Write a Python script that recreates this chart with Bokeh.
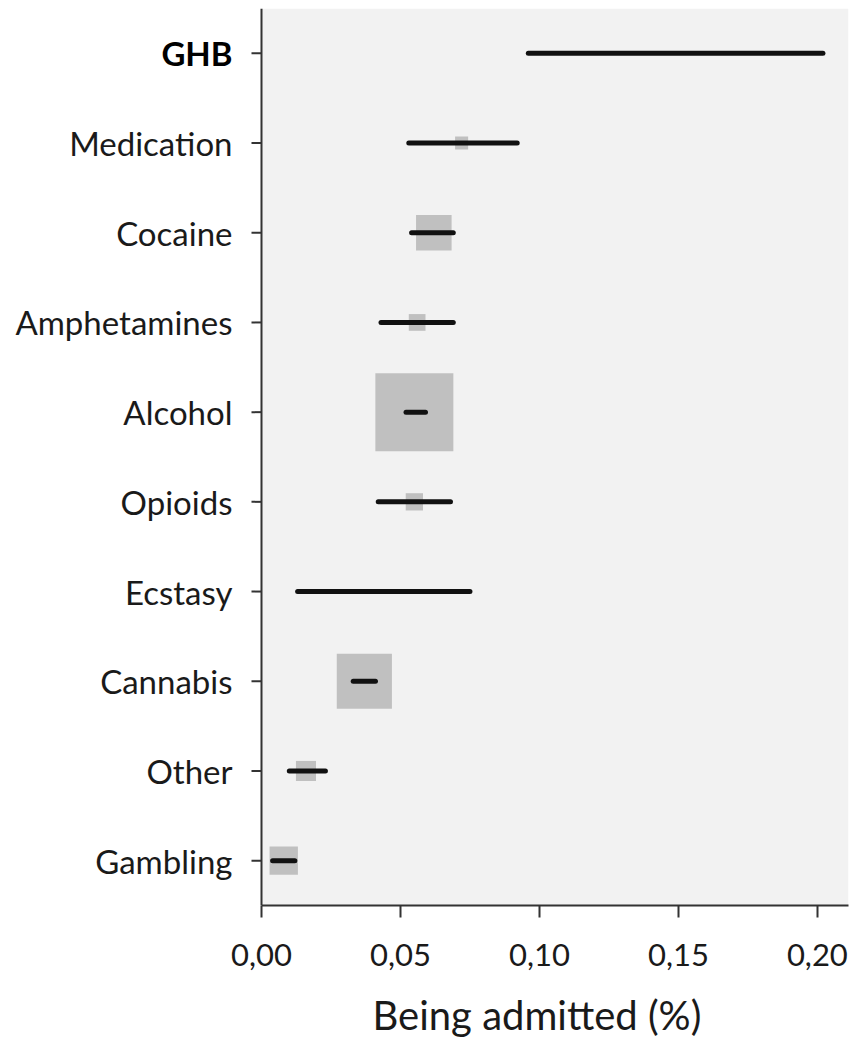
from bokeh.plotting import figure
from bokeh.models import (ColumnDataSource, FactorRange, Range1d, FixedTicker,
                          CustomJSTickFormatter, Title, Span, BoxAnnotation)
from bokeh.core.properties import value
from bokeh.embed import file_html
from bokeh.resources import INLINE
import math

# Pooled estimates of the probability of being admitted, per substance
categories = ["GHB", "Medication", "Cocaine", "Amphetamines", "Alcohol",
              "Opioids", "Ecstasy", "Cannabis", "Other", "Gambling"]
estimate = [0.149, 0.072, 0.062, 0.056, 0.055, 0.055, 0.044, 0.037, 0.016, 0.008]
lower = [0.096, 0.053, 0.054, 0.043, 0.052, 0.042, 0.013, 0.033, 0.010, 0.004]
upper = [0.202, 0.092, 0.069, 0.069, 0.059, 0.068, 0.075, 0.041, 0.023, 0.012]
# relative weight of each pooled estimate (largest = 100)
weight = [0.15, 2.8, 20.8, 4.6, 100, 4.9, 0.26, 50, 6.6, 13.2]
# the highlighted substance is set in bold
highlight = ["GHB"]
x_ticks = [0.0, 0.05, 0.10, 0.15, 0.20]
x_max = 0.2112
x_title = "Being admitted (%)"

FONT = "Lato"
TEXT = "#1a1a1a"
AXIS = "#333333"
W, H = 852, 1058
AXIS_X = 261            # canvas position of the value axis origin
RIGHT = 4
TOP, BOTTOM = 8, 152
TICK = 10               # outward tick length on the category axis, px

# the frame spans the whole width; the category names live left of x = 0
px_per_unit = (W - RIGHT - AXIS_X) / x_max
x_start = -AXIS_X / px_per_unit
tick_len = TICK / px_per_unit

src = ColumnDataSource(dict(
    cat=categories, est=estimate, lo=lower, hi=upper,
    sz=[7.8 * math.sqrt(w) for w in weight],
    style=["bold" if c in highlight else "normal" for c in categories],
    color=["#000000" if c in highlight else TEXT for c in categories],
    t0=[-tick_len] * len(categories), t1=[0.0] * len(categories),
))

p = figure(width=W, height=H,
           y_range=FactorRange(factors=categories[::-1]),
           x_range=Range1d(x_start, x_max),
           y_axis_location=None,
           output_backend="svg", toolbar_location=None,
           min_border_left=0, min_border_right=RIGHT,
           min_border_top=TOP, min_border_bottom=BOTTOM)

p.background_fill_color = "white"
p.border_fill_color = "white"
p.outline_line_color = None

# grey plotting panel to the right of the origin
p.add_layout(BoxAnnotation(left=0, right=x_max, fill_color="#f2f2f2",
                           fill_alpha=1, line_color=None, level="underlay"))

p.xgrid.ticker = FixedTicker(ticks=x_ticks)
p.xgrid.grid_line_color = "white"
p.xgrid.grid_line_width = 3
p.ygrid.grid_line_color = None

# weight squares, then confidence intervals on top
p.scatter(x="est", y="cat", size="sz", marker="square", source=src,
          fill_color="#c0c0c0", line_color=None)
p.segment(x0="lo", y0="cat", x1="hi", y1="cat", source=src,
          line_width=5, line_color="#111111", line_cap="round")

# category axis: line, outward ticks and names
p.add_layout(Span(location=0, dimension="height", line_color=AXIS, line_width=2))
p.segment(x0="t0", y0="cat", x1="t1", y1="cat", source=src,
          line_color=AXIS, line_width=2)
p.text(x=0, y="cat", text="cat", source=src, x_offset=-29,
       text_align="right", text_baseline="middle",
       text_font=value(FONT), text_font_size=value("33px"),
       text_font_style="style", text_color="color")

# value axis
p.xaxis.bounds = (0, x_max)
p.xaxis.ticker = FixedTicker(ticks=x_ticks)
p.xaxis.formatter = CustomJSTickFormatter(code="return tick.toFixed(2).replace('.', ',');")
p.xaxis.major_label_text_font = FONT
p.xaxis.major_label_text_font_size = "31px"
p.xaxis.major_label_text_color = TEXT
p.xaxis.major_label_standoff = 26
p.xaxis.major_tick_out = 12
p.xaxis.major_tick_in = 0
p.xaxis.minor_tick_line_color = None
p.xaxis.axis_line_width = 2
p.xaxis.axis_line_color = AXIS
p.xaxis.major_tick_line_width = 2
p.xaxis.major_tick_line_color = AXIS

# axis title
p.add_layout(Title(text=x_title, align="left", offset=372, standoff=40,
                   text_font=FONT, text_font_size="40px",
                   text_font_style="normal", text_color=TEXT), "below")

open("out.html", "w").write(file_html(p, INLINE))
